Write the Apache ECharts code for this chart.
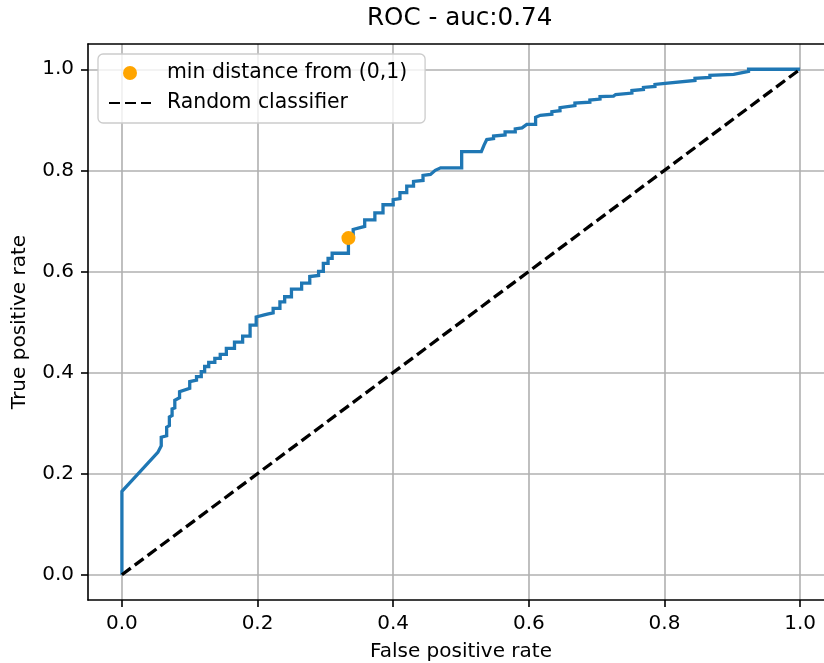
<!DOCTYPE html>
<html>
<head>
<meta charset="utf-8">
<script src="https://cdn.jsdelivr.net/npm/echarts@6/dist/echarts.min.js"></script>
<style>
  html, body { margin: 0; padding: 0; background: #fff; }
  #chart { width: 824px; height: 663px; }
</style>
</head>
<body>
<div id="chart"></div>
<script>
// ROC curve (false positive rate, true positive rate)
const fpr = [0, 0, 0.053, 0.058, 0.058, 0.066, 0.066, 0.070, 0.070, 0.074, 0.074, 0.078, 0.078, 0.085, 0.085,
  0.100, 0.100, 0.110, 0.110, 0.117, 0.117, 0.122, 0.122, 0.128, 0.128, 0.137, 0.137, 0.145, 0.145, 0.154, 0.154,
  0.166, 0.166, 0.178, 0.178, 0.189, 0.189, 0.198, 0.198, 0.210, 0.216, 0.223, 0.223, 0.233, 0.233, 0.240, 0.240,
  0.250, 0.250, 0.265, 0.265, 0.277, 0.277, 0.290, 0.290, 0.297, 0.297, 0.304, 0.304, 0.310, 0.310, 0.334, 0.334,
  0.341, 0.341, 0.358, 0.358, 0.373, 0.373, 0.385, 0.385, 0.400, 0.400, 0.410, 0.410, 0.420, 0.420, 0.430, 0.430,
  0.444, 0.444, 0.455, 0.462, 0.470, 0.501, 0.501, 0.530, 0.534, 0.538, 0.548, 0.548, 0.565, 0.565, 0.580, 0.580,
  0.590, 0.597, 0.610, 0.610, 0.617, 0.634, 0.634, 0.646, 0.646, 0.668, 0.668, 0.690, 0.690, 0.705, 0.705, 0.725,
  0.728, 0.752, 0.752, 0.769, 0.769, 0.786, 0.786, 0.801, 0.801, 0.845, 0.845, 0.867, 0.867, 0.902, 0.902, 0.924,
  0.924, 1.0];
const tpr = [0, 0.165, 0.242, 0.255, 0.272, 0.275, 0.292, 0.295, 0.312, 0.315, 0.328, 0.330, 0.345, 0.350, 0.362,
  0.369, 0.382, 0.385, 0.392, 0.392, 0.402, 0.402, 0.412, 0.412, 0.420, 0.420, 0.428, 0.428, 0.436, 0.436, 0.448,
  0.448, 0.460, 0.460, 0.472, 0.472, 0.494, 0.494, 0.510, 0.514, 0.516, 0.518, 0.527, 0.527, 0.540, 0.540, 0.550,
  0.550, 0.565, 0.565, 0.577, 0.577, 0.590, 0.592, 0.600, 0.600, 0.616, 0.616, 0.626, 0.626, 0.636, 0.636, 0.666,
  0.666, 0.683, 0.689, 0.702, 0.702, 0.716, 0.716, 0.732, 0.732, 0.742, 0.744, 0.756, 0.756, 0.769, 0.769, 0.778,
  0.780, 0.790, 0.792, 0.800, 0.805, 0.805, 0.837, 0.837, 0.850, 0.861, 0.863, 0.868, 0.870, 0.876, 0.876, 0.882,
  0.884, 0.891, 0.891, 0.905, 0.909, 0.911, 0.916, 0.918, 0.924, 0.928, 0.933, 0.935, 0.939, 0.941, 0.946, 0.947,
  0.950, 0.953, 0.958, 0.960, 0.964, 0.966, 0.970, 0.972, 0.975, 0.978, 0.982, 0.984, 0.988, 0.990, 0.993, 0.996,
  1.0, 1.0];
// point with minimum distance from (0,1)
const minFpr = [0.334];
const minTpr = [0.666];
// random classifier diagonal
const randFpr = [0, 1];
const randTpr = [0, 1];
// ticks
const tickValues = [0, 0.2, 0.4, 0.6, 0.8, 1.0];
const titleText = 'ROC - auc:0.74';
const xName = 'False positive rate';
const yName = 'True positive rate';
const legendNames = ['min distance from (0,1)', 'Random classifier'];

const FONT = 'DejaVu Sans';
const zip = (a, b) => a.map((v, i) => [v, b[i]]);

const axisCommon = {
  type: 'value',
  min: -0.05,
  max: 1.05,
  axisLine: { show: true, onZero: false, lineStyle: { color: '#000', width: 1.6 } },
  axisTick: { show: true, length: 7, customValues: tickValues, lineStyle: { color: '#000', width: 1.6 } },
  axisLabel: { show: true, margin: 14, customValues: tickValues, color: '#000', fontSize: 20, fontFamily: FONT,
    formatter: v => v.toFixed(1) },
  splitLine: { show: true, lineStyle: { color: '#b0b0b0', width: 1.6 } },
  nameLocation: 'middle',
  nameTextStyle: { color: '#000', fontSize: 20, fontFamily: FONT }
};

const chart = echarts.init(document.getElementById('chart'), null, { renderer: 'canvas' });
chart.setOption({
  animation: false,
  backgroundColor: '#fff',
  title: {
    text: titleText,
    left: 367, top: 6, padding: 0,
    textStyle: { color: '#000', fontSize: 24.6, fontWeight: 'normal', fontFamily: FONT }
  },
  grid: {
    left: 88, top: 44, right: -10, bottom: 63,
    outerBoundsMode: 'none',
    containLabel: false,
    show: false
  },
  xAxis: [
    Object.assign({}, axisCommon, { name: xName, nameGap: 42 }),
    {
      type: 'value', position: 'top', min: -0.05, max: 1.05,
      axisLine: { show: true, onZero: false, lineStyle: { color: '#000', width: 1.6 } },
      axisTick: { show: false }, axisLabel: { show: false }, splitLine: { show: false }
    }
  ],
  yAxis: Object.assign({}, axisCommon, { name: yName, nameGap: 58 }),
  legend: {
    data: [
      { name: legendNames[0] },
      { name: legendNames[1], itemStyle: { opacity: 0 } }
    ],
    orient: 'vertical',
    left: 98, top: 54,
    padding: [9, 18, 10, 10],
    itemGap: 10,
    itemWidth: 42, itemHeight: 14,
    backgroundColor: 'rgba(255,255,255,0.8)',
    borderColor: '#cccccc', borderWidth: 1.3, borderRadius: 5,
    textStyle: { color: '#000', fontSize: 20.4, fontFamily: FONT, lineHeight: 20, padding: [0, 0, 0, 11] }
  },
  series: [
    {
      name: 'ROC',
      type: 'line',
      data: zip(fpr, tpr),
      showSymbol: false, symbol: 'none',
      lineStyle: { color: '#1f77b4', width: 3.3, join: 'miter' },
      itemStyle: { color: '#1f77b4' },
      z: 2
    },
    {
      name: legendNames[0],
      type: 'scatter',
      data: zip(minFpr, minTpr),
      symbol: 'circle', symbolSize: 14,
      itemStyle: { color: '#ffa500', opacity: 1 },
      z: 4
    },
    {
      name: legendNames[1],
      type: 'line',
      data: zip(randFpr, randTpr),
      showSymbol: false, symbol: 'none',
      lineStyle: { color: '#000', width: 3.3, type: [11, 5] },
      itemStyle: { color: '#000' },
      z: 3
    }
  ]
});
</script>
</body>
</html>
